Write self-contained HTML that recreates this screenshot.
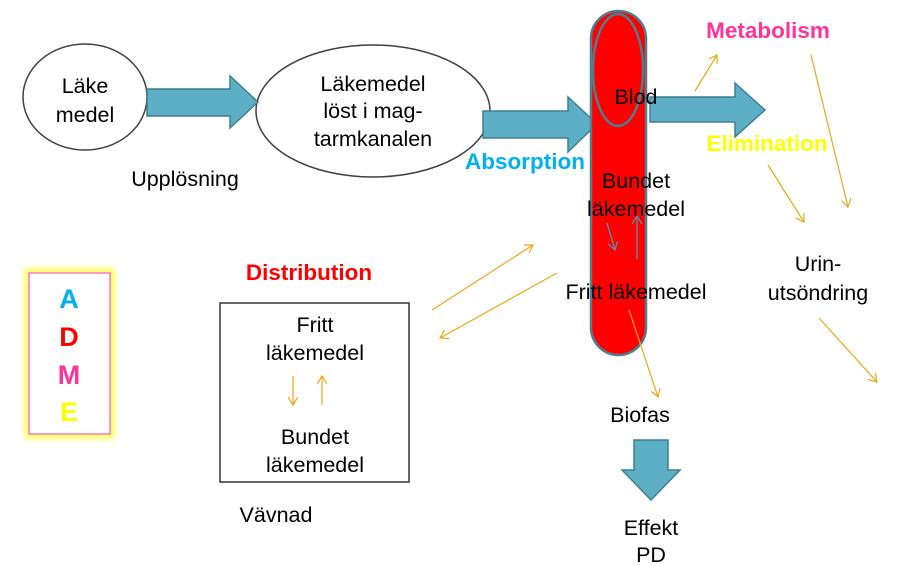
<!DOCTYPE html>
<html><head><style>body{margin:0;background:#fff}svg{display:block}text{font-family:"Liberation Sans",sans-serif}</style></head><body>
<svg width="906" height="566" viewBox="0 0 906 566" xmlns="http://www.w3.org/2000/svg">
<defs>
<marker id="oa" markerWidth="10" markerHeight="10" refX="8" refY="5" orient="auto" markerUnits="userSpaceOnUse"><path d="M0,0 L8,5 L0,10" fill="none" stroke="#E8A818" stroke-width="1.2"/></marker>
<marker id="ba" markerWidth="10" markerHeight="10" refX="8" refY="5" orient="auto" markerUnits="userSpaceOnUse"><path d="M0,0 L8,5 L0,10" fill="none" stroke="#4F95B0" stroke-width="1.2"/></marker>
<filter id="gl" x="-30%" y="-30%" width="160%" height="160%"><feGaussianBlur stdDeviation="3"/></filter>
</defs>
<g font-size="21.5">
<ellipse cx="85" cy="97" rx="62" ry="53" fill="#fff" stroke="#404040" stroke-width="1.5"/>
<text x="85" y="93" text-anchor="middle">Läke</text>
<text x="85" y="122" text-anchor="middle">medel</text>
<ellipse cx="373" cy="111" rx="117" ry="66" fill="#fff" stroke="#404040" stroke-width="1.5"/>
<text x="373" y="91" text-anchor="middle">Läkemedel</text>
<text x="373" y="118" text-anchor="middle">löst i mag-</text>
<text x="373" y="146" text-anchor="middle">tarmkanalen</text>
<path d="M147,89 H230 V76 L258,102 L230,128 V116 H147 Z" fill="#5DAFC6" stroke="#3F7F94" stroke-width="1.5"/>
<path d="M483,111 H568 V97 L597,124 L568,152 V138 H483 Z" fill="#5DAFC6" stroke="#3F7F94" stroke-width="1.5"/>
<rect x="591" y="11" width="55" height="344" rx="27.5" fill="#FF0000" stroke="#4F7F8F" stroke-width="2.5"/>
<ellipse cx="618" cy="70" rx="25" ry="56" fill="none" stroke="#4F7F8F" stroke-width="2.5"/>
<path d="M650,97 H735 V83 L765,110 L735,137 V122 H650 Z" fill="#5DAFC6" stroke="#3F7F94" stroke-width="1.5"/>
<path d="M634,440 H668 V470 H680 L651,500 L622,470 H634 Z" fill="#5DAFC6" stroke="#3F7F94" stroke-width="1.5"/>
<text x="636" y="104" text-anchor="middle">Blod</text>
<text x="636" y="188" text-anchor="middle">Bundet</text>
<text x="636" y="216" text-anchor="middle">läkemedel</text>
<text x="636" y="299" text-anchor="middle">Fritt läkemedel</text>
<text x="185" y="186" text-anchor="middle">Upplösning</text>
<text x="818" y="271" text-anchor="middle">Urin-</text>
<text x="818" y="300" text-anchor="middle">utsöndring</text>
<text x="640" y="422" text-anchor="middle">Biofas</text>
<text x="651" y="535" text-anchor="middle">Effekt</text>
<text x="651" y="562" text-anchor="middle">PD</text>
<rect x="220" y="303" width="189" height="179" fill="#fff" stroke="#333" stroke-width="1.5"/>
<text x="315" y="332" text-anchor="middle">Fritt</text>
<text x="315" y="360" text-anchor="middle">läkemedel</text>
<text x="315" y="444" text-anchor="middle">Bundet</text>
<text x="315" y="472" text-anchor="middle">läkemedel</text>
<text x="276" y="522" text-anchor="middle">Vävnad</text>
</g>
<g font-size="22.5" font-weight="bold" text-anchor="middle">
<text x="525" y="169" fill="#00B0F0">Absorption</text>
<text x="768" y="38" fill="#FF3399">Metabolism</text>
<text x="767" y="151" fill="#FFFF00">Elimination</text>
<text x="309" y="280" fill="#FF0000">Distribution</text>
</g>
<g stroke="#E8A818" stroke-width="1.2" fill="none" marker-end="url(#oa)">
<line x1="293" y1="376" x2="293" y2="405"/>
<line x1="322" y1="405" x2="322" y2="376"/>
<line x1="695" y1="91" x2="717" y2="55"/>
<line x1="811" y1="55" x2="848" y2="207"/>
<line x1="768" y1="165" x2="804" y2="222"/>
<line x1="819" y1="318" x2="877" y2="382"/>
<line x1="629" y1="310" x2="658" y2="397"/>
<line x1="432" y1="310" x2="533" y2="245"/>
<line x1="557" y1="273" x2="440" y2="338"/>
</g>
<g stroke="#4F95B0" stroke-width="1.3" fill="none" marker-end="url(#ba)">
<line x1="607" y1="223" x2="615" y2="250"/>
<line x1="637" y1="259" x2="637" y2="216"/>
</g>
<rect x="29" y="273" width="81" height="161" fill="none" stroke="#FFFF55" stroke-width="9" filter="url(#gl)"/>
<rect x="29" y="273" width="81" height="161" fill="#fff" stroke="#FF33CC" stroke-width="1"/>
<g font-size="27" font-weight="bold" text-anchor="middle">
<text x="69" y="308" fill="#00B0F0">A</text>
<text x="69" y="346" fill="#FF0000">D</text>
<text x="69" y="384" fill="#FF3399">M</text>
<text x="69" y="421" fill="#FFFF00">E</text>
</g>
</svg>
</body></html>
